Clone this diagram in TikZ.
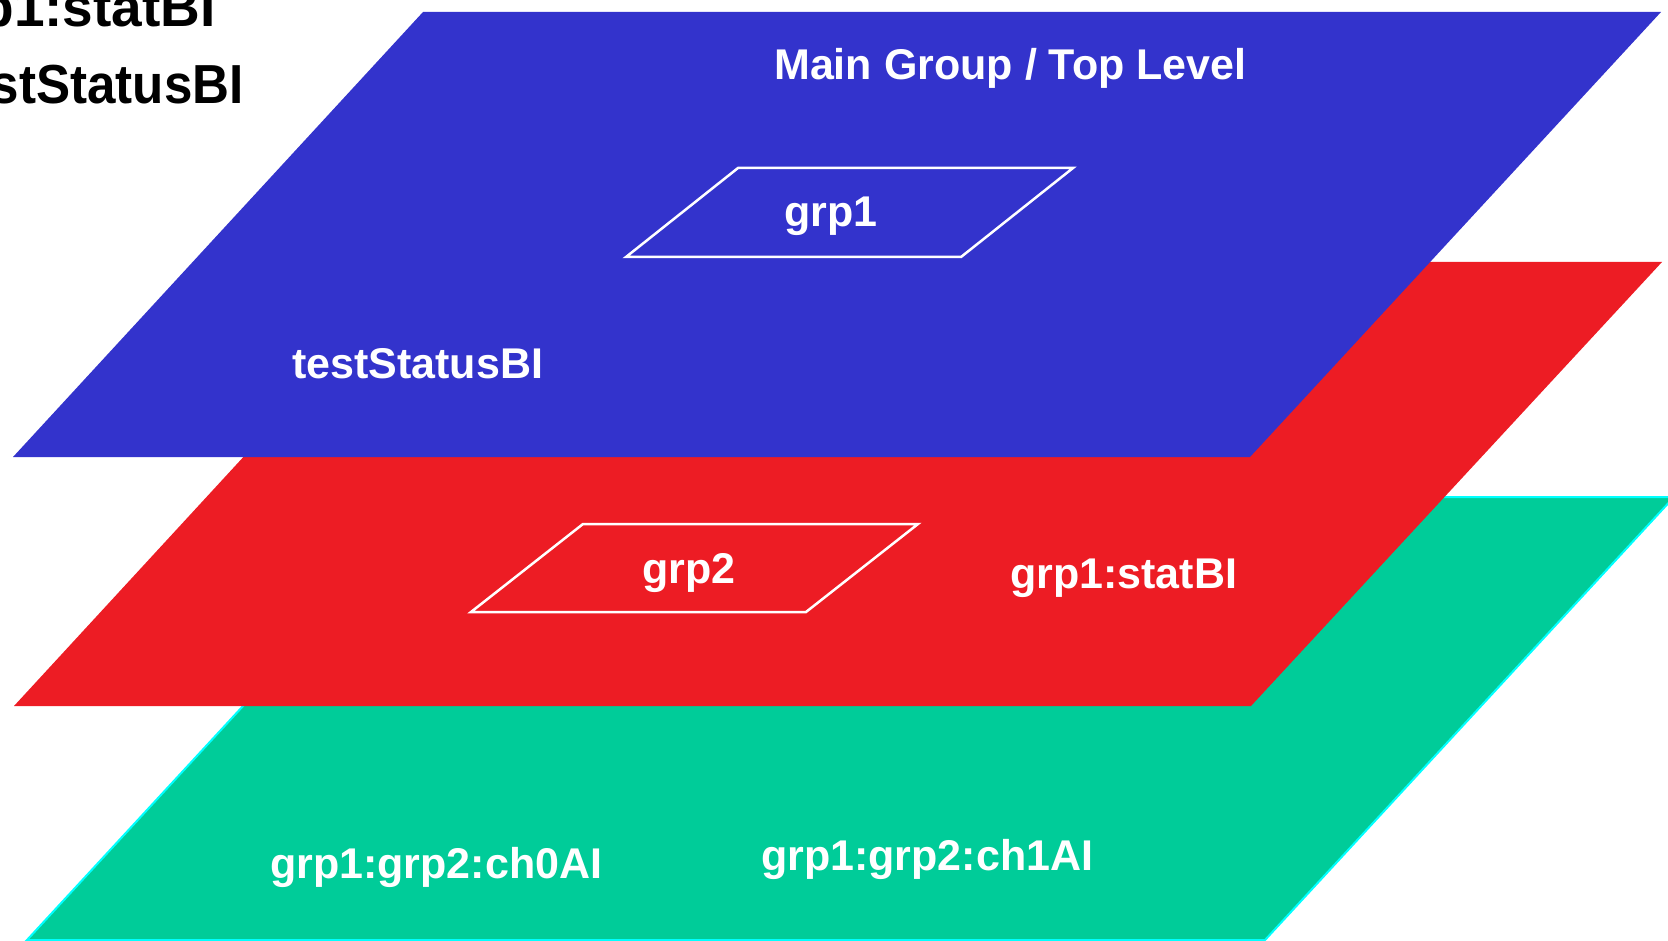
\documentclass[tikz,border=0pt]{standalone}
\usepackage{fontspec}
\setmainfont{Liberation Sans}
\definecolor{layerblue}{HTML}{3333CC}
\definecolor{layerred}{HTML}{ED1C24}
\definecolor{layerteal}{HTML}{00CC99}
\definecolor{tealedge}{HTML}{00FFFF}
\tikzset{
  lbl/.style={text=white, font=\bfseries\fontsize{43}{50}\selectfont, inner sep=0pt, anchor=base west},
  keylbl/.style={text=black, font=\bfseries\fontsize{55}{62}\selectfont, inner sep=0pt, anchor=base east},
  grpframe/.style={draw=white, line width=2.5pt, line join=miter},
}
\begin{document}
\begin{tikzpicture}[x=1pt, y=-1pt]
  \useasboundingbox (0,0) rectangle (1668,941);
  \clip (0,0) rectangle (1668,941);

  % bottom layer: channels
  \fill[layerteal, draw=tealedge, line width=2pt]
    (436,497) -- (1674,497) -- (1265,940) -- (27,940) -- cycle;
  % middle layer: grp1
  \fill[layerred] (423,262) -- (1662,262) -- (1251,706) -- (14,706) -- cycle;
  % top layer: main group
  \fill[layerblue] (423,12) -- (1661,12) -- (1250,457) -- (13,457) -- cycle;

  % sub-group frames
  \draw[grpframe] (738,168) -- (1073,168) -- (961,257) -- (626,257) -- cycle;
  \draw[grpframe] (583,524) -- (918,524) -- (806,612) -- (471,612) -- cycle;

  % key text at the upper left
  \node[keylbl] (keystat) at (216,27) {grp1:statBI};
  \node[keylbl, xscale=0.93] (keytest) at (244,104) {testStatusBI};

  % layer labels
  \node[lbl] (main) at (774,80) {Main Group / Top Level};
  \node[lbl, anchor=base] (grpone) at (831,227) {grp1};
  \node[lbl] (test) at (292,378) {testStatusBI};
  \node[lbl, anchor=base] (grptwo) at (689,583) {grp2};
  \node[lbl] (stat) at (1010,588) {grp1:statBI};
  \node[lbl] (chzero) at (270,878) {grp1:grp2:ch0AI};
  \node[lbl] (chone) at (761,870) {grp1:grp2:ch1AI};
\end{tikzpicture}
\end{document}
